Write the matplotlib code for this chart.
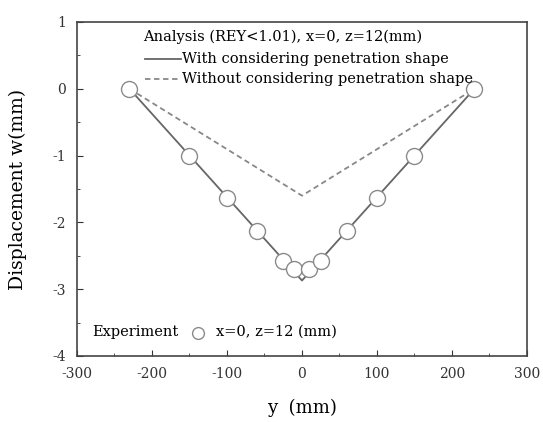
import numpy as np
import matplotlib.pyplot as plt

plt.rcParams['font.family'] = ['DejaVu Serif']
plt.rcParams['axes.unicode_minus'] = False

# experiment points
y_exp = [-230, -150, -100, -60, -25, -10, 10, 25, 60, 100, 150, 230]
w_exp = [0, -1.01, -1.63, -2.13, -2.58, -2.70, -2.70, -2.58, -2.13, -1.63, -1.01, 0]

# analysis with penetration shape
y_with = [-230, 0, 230]
w_with = [0, -2.87, 0]

# analysis without penetration shape
y_without = [-230, 0, 230]
w_without = [0, -1.6, 0]

fig = plt.figure(figsize=(5.43, 4.22), dpi=100)
ax = fig.add_axes([0.1418, 0.1564, 0.8287, 0.7915])

ax.plot(y_with, w_with, '-', color='#666666', linewidth=1.3)
ax.plot(y_without, w_without, '--', color='#888888', linewidth=1.3, dashes=(3, 2))
ax.plot(y_exp, w_exp, 'o', markersize=11.5, markerfacecolor='white',
        markeredgecolor='#8a8a8a', markeredgewidth=1.0)

ax.set_xlim(-300, 300)
ax.set_ylim(-4, 1)
ax.set_xticks(np.arange(-300, 301, 100))
ax.set_yticks(np.arange(-4, 1.1, 1))
ax.set_xticks(np.arange(-250, 300, 100), minor=True)
ax.set_yticks(np.arange(-3.5, 1, 1), minor=True)
ax.tick_params(direction='in', length=4, labelsize=10, colors='#333333', pad=8)
ax.tick_params(which='minor', direction='in', length=2, color='#333333')
for s in ax.spines.values():
    s.set_color('#444444')
    s.set_linewidth(1.2)

ax.set_xlabel('y  (mm)', fontsize=13, labelpad=13)
ax.set_ylabel('Displacement w(mm)', fontsize=13.5, labelpad=18)

# legend texts
fs = 10.5
ax.text(-212, 0.78, 'Analysis (REY<1.01), x=0, z=12(mm)', fontsize=fs, va='center')
ax.plot([-209, -161], [0.45, 0.45], '-', color='#666666', linewidth=1.3)
ax.text(-160, 0.45, 'With considering penetration shape', fontsize=fs, va='center')
ax.plot([-209, -161], [0.15, 0.15], '--', color='#888888', linewidth=1.3, dashes=(3, 2))
ax.text(-160, 0.15, 'Without considering penetration shape', fontsize=fs, va='center')

ax.text(-280, -3.64, 'Experiment', fontsize=fs, va='center')
ax.plot([-139], [-3.66], 'o', markersize=8.5, markerfacecolor='white',
        markeredgecolor='#8a8a8a', markeredgewidth=1.0)
ax.text(-115, -3.64, 'x=0, z=12 (mm)', fontsize=fs, va='center')

fig.savefig('out.png', dpi=100)
